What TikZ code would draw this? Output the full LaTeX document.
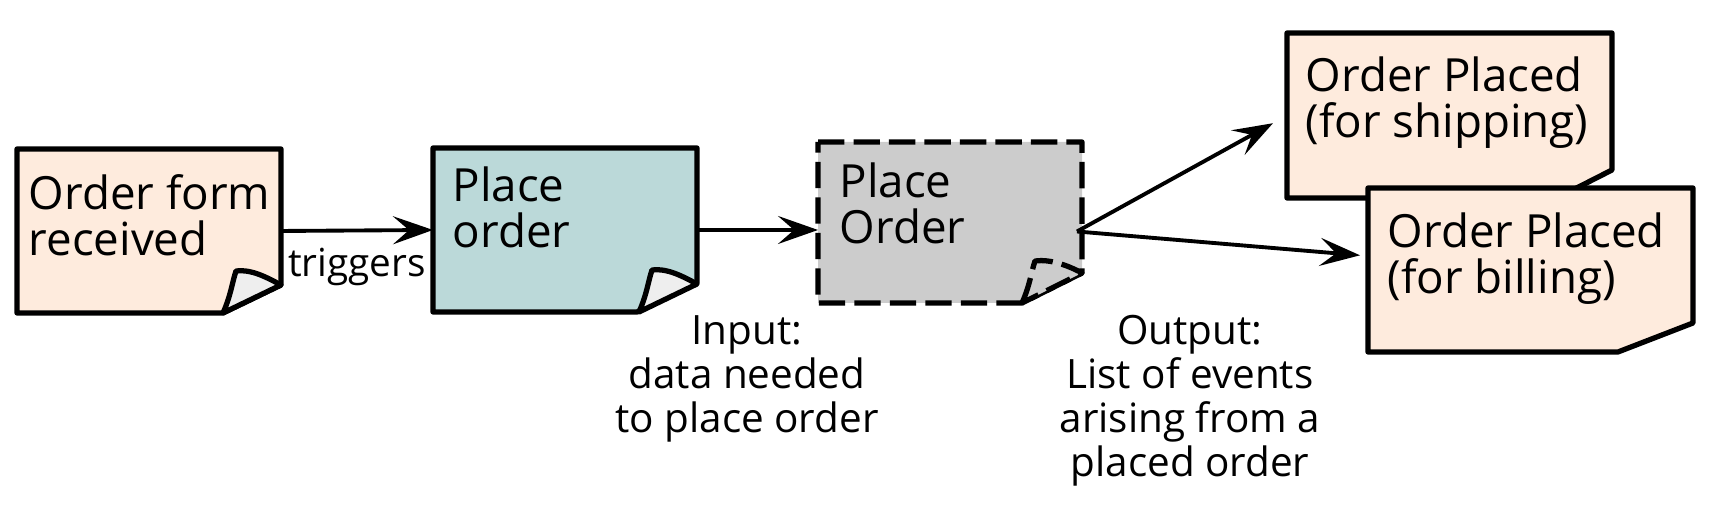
\documentclass[tikz,border=0pt]{standalone}
\usepackage{fontspec}
\setmainfont{Open Sans}
\usepackage{tikz}
\usetikzlibrary{calc,positioning,arrows.meta}
\definecolor{peach}{RGB}{254,235,221}
\definecolor{teal}{RGB}{187,217,217}
\definecolor{cmdgray}{RGB}{204,204,204}
\definecolor{flap}{RGB}{238,238,238}
\tikzset{>={Stealth[length=4mm,width=2.8mm,inset=1.6mm]}}

\begin{document}
\begin{tikzpicture}[
    sticky/.style={minimum width=2.64cm, minimum height=1.64cm, inner sep=0pt, outer sep=0pt, anchor=south west},
    event/.style={sticky, minimum width=3.25cm},
    note/.style={font=\fontsize{13}{13}\selectfont, align=left, inner sep=0pt, anchor=north west},
    remark/.style={font=\fontsize{11.5}{12.5}\selectfont, align=center, inner sep=0pt, anchor=north},
    edge/.style={line width=1.5pt, line join=round},
    dashedge/.style={edge, dash pattern=on 7.5pt off 2.6pt},
    flow/.style={line width=1.1pt, ->}]
        \useasboundingbox (0,0) rectangle (17.22,5.12);

        % the stickies
        \node[sticky] (form) at (0.17,1.99) {};
        \node[sticky] (place) at (4.33,2.00) {};
        \node[sticky, minimum height=1.61cm] (cmd) at (8.18,2.09) {};
        \node[event, minimum height=1.65cm] (ship) at (12.87,3.14) {};
        \node[event] (bill) at (13.68,1.60) {};

        % outlines with the cut corner
        \foreach \n/\c/\cx/\cy in {form/peach/0.58/0.28, place/teal/0.6/0.29, ship/peach/0.55/0.28, bill/peach/0.75/0.29}
          \filldraw[edge, fill=\c] (\n.north west) -- (\n.north east) -- ($(\n.south east)+(0,\cy)$)
              -- ($(\n.south east)+(-\cx,0)$) -- (\n.south west) -- cycle;

        \filldraw[dashedge, fill=cmdgray] (cmd.north west) -- (cmd.north east)
            -- ($(cmd.south east)+(0,0.3)$) -- ($(cmd.south east)+(-0.6,0)$) -- (cmd.south west) -- cycle;

        % curled corners
        \foreach \n in {form,place}
          \filldraw[edge, fill=flap] ($(\n.south east)+(-0.58,0)$) .. controls +(0.08,0.18) and +(-0.04,-0.12) ..
              ($(\n.south east)+(-0.45,0.42)$) .. controls +(0.15,0.02) and +(-0.15,0.08) .. ($(\n.south east)+(0,0.28)$) -- cycle;
        \filldraw[dashedge, fill=cmdgray] ($(cmd.south east)+(-0.6,0)$) .. controls +(0.08,0.18) and +(-0.04,-0.12) ..
            ($(cmd.south east)+(-0.47,0.42)$) .. controls +(0.15,0.02) and +(-0.15,0.08) .. ($(cmd.south east)+(0,0.3)$) -- cycle;

        % texts on the stickies
        \node[note] (formtxt) at ($(form.north west)+(0.11,-0.25)$) {Order form\\received};
        \node[note] (placetxt) at ($(place.north west)+(0.19,-0.18)$) {Place\\order};
        \node[note] (cmdtxt) at ($(cmd.north west)+(0.21,-0.20)$) {Place\\Order};
        \node[note] (shiptxt) at ($(ship.north west)+(0.18,-0.23)$) {Order Placed\\(for shipping)};
        \node[note] (billtxt) at ($(bill.north west)+(0.19,-0.24)$) {Order Placed\\(for billing)};

        % connectors
        \draw[flow] (form.east) -- node[below=0.16cm, inner sep=0pt, font=\fontsize{11}{12}\selectfont] (trig) {triggers} (place.west);
        \draw[flow] (place.east) -- (place.east -| cmd.west);
        \coordinate (split) at ($(cmd.east)+(-0.05,-0.09)$);
        \draw[flow, shorten >=0.16cm] (split) -- (ship.west);
        \draw[flow, shorten >=0.08cm] (split) -- ($(bill.west)+(0,0.14)$);

        % input and output
        \node[remark] (input) at (7.47,1.97) {Input:\\data needed\\to place order};
        \node[remark] (output) at (11.90,1.97) {Output:\\List of events\\arising from a\\placed order};
\end{tikzpicture}
\end{document}
